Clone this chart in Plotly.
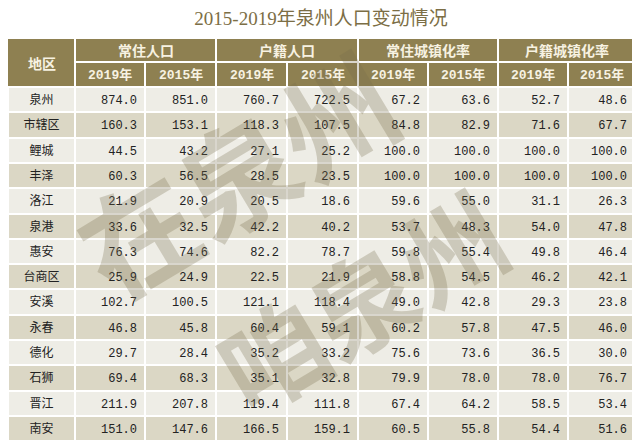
import plotly.graph_objects as go

title = "2015-2019年泉州人口变动情况"
groups = ["常住人口", "户籍人口", "常住城镇化率", "户籍城镇化率"]
years = ["2019年", "2015年"]
regions = ["泉州", "市辖区", "鲤城", "丰泽", "洛江", "泉港", "惠安", "台商区",
           "安溪", "永春", "德化", "石狮", "晋江", "南安"]
resident_2019 = [874.0, 160.3, 44.5, 60.3, 21.9, 33.6, 76.3, 25.9, 102.7, 46.8, 29.7, 69.4, 211.9, 151.0]
resident_2015 = [851.0, 153.1, 43.2, 56.5, 20.9, 32.5, 74.6, 24.9, 100.5, 45.8, 28.4, 68.3, 207.8, 147.6]
hukou_2019 = [760.7, 118.3, 27.1, 28.5, 20.5, 42.2, 82.2, 22.5, 121.1, 60.4, 35.2, 35.1, 119.4, 166.5]
hukou_2015 = [722.5, 107.5, 25.2, 23.5, 18.6, 40.2, 78.7, 21.9, 118.4, 59.1, 33.2, 32.8, 111.8, 159.1]
res_urban_2019 = [67.2, 84.8, 100.0, 100.0, 59.6, 53.7, 59.8, 58.8, 49.0, 60.2, 75.6, 79.9, 67.4, 60.5]
res_urban_2015 = [63.6, 82.9, 100.0, 100.0, 55.0, 48.3, 55.4, 54.5, 42.8, 57.8, 73.6, 78.0, 64.2, 55.8]
huk_urban_2019 = [52.7, 71.6, 100.0, 100.0, 31.1, 54.0, 49.8, 46.2, 29.3, 47.5, 36.5, 78.0, 58.5, 54.4]
huk_urban_2015 = [48.6, 67.7, 100.0, 100.0, 26.3, 47.8, 46.4, 42.1, 23.8, 46.0, 30.0, 76.7, 53.4, 51.6]

# page body has an 8px margin, so the figure is 8px smaller and coordinates are shifted by 8
W, H = 632, 440
HEADER = "#8e8051"
HEAD_TXT = "#f7f2e2"
LIGHT = "#eeede6"
DARK = "#dbd7c5"
LINE = "#ffffff"

col_w = [67, 70, 71, 71, 71, 70, 70, 70, 67]
left = 0
right = left + sum(col_w)
top1 = 30
h_head1 = 24
h_head2 = 25
h_row = 25.3

def px(x):
    return x / W

def py(y):
    return 1 - y / H

x_dom = [px(left), px(right)]

num_cols = [resident_2019, resident_2015, hukou_2019, hukou_2015,
            res_urban_2019, res_urban_2015, huk_urban_2019, huk_urban_2015]

row_colors = [LIGHT if i % 2 == 0 else DARK for i in range(len(regions))]

num_font = "Liberation Mono, Noto Sans CJK SC, monospace"
cjk_font = "Noto Sans CJK SC, sans-serif"

fig = go.Figure()

# year header + data (header row 2 sits at top1 + h_head1)
fig.add_trace(go.Table(
    domain=dict(x=x_dom, y=[0, py(top1 + h_head1)]),
    columnwidth=col_w,
    header=dict(
        values=["" for _ in col_w],
        fill_color=HEADER,
        line=dict(color=LINE, width=2),
        height=h_head2,
    ),
    cells=dict(
        values=[regions] + [["%.1f" % v for v in c] for c in num_cols],
        fill_color=[row_colors],
        line=dict(color=LINE, width=2),
        font=dict(family=num_font, size=12, color="#222222"),
        align=["center"] + ["right"] * 8,
        height=h_row,
    ),
))

# group header row: filled band
grp_w = [col_w[0]] + [col_w[1 + 2 * i] + col_w[2 + 2 * i] for i in range(4)]
fig.add_trace(go.Table(
    domain=dict(x=x_dom, y=[py(top1 + h_head1), py(top1)]),
    columnwidth=grp_w,
    header=dict(
        values=["" for _ in grp_w],
        fill_color=HEADER,
        line=dict(color=LINE, width=2),
        height=h_head1,
    ),
))

def label(text, x, y, font):
    fig.add_annotation(text=text, xref="paper", yref="paper", x=px(x), y=py(y),
                       xanchor="center", yanchor="middle", showarrow=False, font=font)

# group header labels
xpos = left + grp_w[0]
for g, w in zip(groups, grp_w[1:]):
    label("<b>%s</b>" % g, xpos + w / 2, top1 + h_head1 / 2,
          dict(family=cjk_font, size=14, color=HEAD_TXT))
    xpos += w

# year labels
xpos = left + col_w[0]
for i, w in enumerate(col_w[1:]):
    label("<b>%s</b>" % years[i % 2], xpos + w / 2, top1 + h_head1 + h_head2 / 2,
          dict(family=num_font, size=13, color=HEAD_TXT))
    xpos += w

# merged "地区" header cell
fig.add_shape(type="rect", xref="paper", yref="paper", layer="above",
              x0=px(left), x1=px(left + col_w[0] - 1),
              y0=py(top1 + h_head1 + h_head2 - 1), y1=py(top1 + 1),
              fillcolor=HEADER, line=dict(width=0))
label("<b>地区</b>", left + col_w[0] / 2, top1 + (h_head1 + h_head2) / 2,
      dict(family=cjk_font, size=14, color=HEAD_TXT))

# watermark
for txt, cx, cy, sz in [("在泉州", 227, 164, 115), ("咱泉州", 352, 290, 104)]:
    fig.add_annotation(text="<b>%s</b>" % txt, xref="paper", yref="paper", x=px(cx), y=py(cy),
                       xanchor="center", yanchor="middle", showarrow=False, textangle=-31,
                       font=dict(family=cjk_font, size=sz, color="rgba(120,108,75,0.28)"))

fig.update_layout(
    width=W, height=H,
    margin=dict(l=0, r=0, t=0, b=0),
    paper_bgcolor="white",
    title=dict(text=title, x=px(313), xanchor="center", y=py(10), yanchor="middle",
               font=dict(family="Liberation Serif, Noto Sans CJK SC, serif", size=19, color="#7c6e45")),
)

fig.write_html("out.html")
